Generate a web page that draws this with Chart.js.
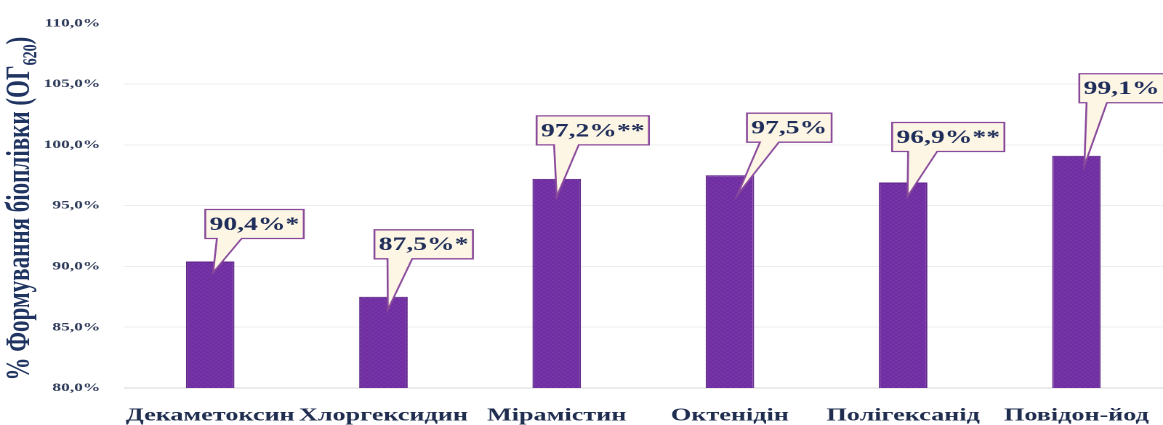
<!DOCTYPE html>
<html>
<head>
<meta charset="utf-8">
<script src="https://cdn.jsdelivr.net/npm/chart.js@4/dist/chart.umd.min.js"></script>
<style>
    html, body { margin: 0; padding: 0; background: #ffffff; }
    #chart { display: block; }
</style>
</head>
<body>
<!-- the original chart is stretched sideways, so the canvas is drawn narrower and scaled by CSS -->
<canvas id="chart" width="800" height="425" style="width:1163px;height:425px"></canvas>
<script>
// Data
const categories = ["Декаметоксин", "Хлоргексидин", "Мірамістин", "Октенідін", "Полігексанід", "Повідон-йод"];
const biofilmValues = [90.4, 87.5, 97.2, 97.5, 96.9, 99.1];
const significance = ["*", "*", "**", "", "**", ""];
const yTicks = [80, 85, 90, 95, 100, 105, 110];

const serif = '"Liberation Serif", "Times New Roman", serif';

// where each callout box sits relative to its bar (box left/bottom, tip, wedge base)
const calloutOffsets = [
    { dx: -3.4, dy: -23, tx: 2, ty: 11, wa: 8, wb: 25 },
    { dx: -6.2, dy: -38, tx: 3, ty: 13, wa: 9, wb: 26 },
    { dx: -13.8, dy: -34, tx: 0, ty: 18, wa: 12, wb: 29 },
    { dx: 11.7, dy: -33, tx: 5, ty: 20, wa: 9, wb: 22 },
    { dx: -7.6, dy: -31, tx: 3, ty: 14, wa: 11, wb: 31 },
    { dx: 2, dy: -53, tx: 5.5, ty: 10, wa: 5, wb: 19 }
];

function pct(v) {
    return v.toFixed(1).replace(".", ",") + "%";
}

// small dithered purple fill like the original bars
function barPattern() {
    const c = document.createElement("canvas");
    c.width = 4;
    c.height = 4;
    const p = c.getContext("2d");
    p.fillStyle = "#7231a3";
    p.fillRect(0, 0, 4, 4);
    p.fillStyle = "#8040b4";
    p.fillRect(0, 0, 1, 1);
    p.fillRect(2, 2, 1, 1);
    p.fillStyle = "#6c2c9c";
    p.fillRect(2, 0, 1, 1);
    p.fillRect(0, 2, 1, 1);
    return p.createPattern(c, "repeat");
}

// rotated y title with subscript 620
const yTitlePlugin = {
    id: "yTitle",
    afterDraw(chart) {
        const ctx = chart.ctx;
        const main = "% Формування біоплівки (ОГ";
        const sub = "620";
        const end = ")";
        ctx.save();
        ctx.fillStyle = "#1f3461";
        ctx.textBaseline = "alphabetic";
        ctx.textAlign = "left";
        const mainFont = "bold 23px " + serif;
        const subFont = "bold 14px " + serif;
        ctx.font = mainFont;
        const wMain = ctx.measureText(main).width;
        const wEnd = ctx.measureText(end).width;
        ctx.font = subFont;
        const wSub = ctx.measureText(sub).width;
        const total = wMain + wSub + wEnd;
        const cy = (chart.chartArea.top + chart.chartArea.bottom) / 2 + 3;
        ctx.translate(20, cy);
        ctx.rotate(-Math.PI / 2);
        let x = -total / 2;
        ctx.font = mainFont;
        ctx.fillText(main, x, 0);
        x += wMain;
        ctx.font = subFont;
        ctx.fillText(sub, x, 5);
        x += wSub;
        ctx.font = mainFont;
        ctx.fillText(end, x, 0);
        ctx.restore();
    }
};

// callout boxes with a pointer down to the bar
const calloutPlugin = {
    id: "callouts",
    afterDatasetsDraw(chart) {
        const ctx = chart.ctx;
        const meta = chart.getDatasetMeta(0);
        ctx.save();
        ctx.font = "bold 19px " + serif;
        ctx.textBaseline = "middle";
        ctx.textAlign = "center";
        meta.data.forEach((bar, i) => {
            const text = pct(biofilmValues[i]) + significance[i];
            const off = calloutOffsets[i];
            const w = ctx.measureText(text).width + 6;
            const h = 29;
            const left = bar.x + off.dx;
            const bottom = bar.y + off.dy;
            const top = bottom - h;
            ctx.beginPath();
            ctx.moveTo(left, top);
            ctx.lineTo(left + w, top);
            ctx.lineTo(left + w, bottom);
            ctx.lineTo(left + off.wb, bottom);
            ctx.lineTo(bar.x + off.tx, bar.y + off.ty);
            ctx.lineTo(left + off.wa, bottom);
            ctx.lineTo(left, bottom);
            ctx.closePath();
            ctx.fillStyle = "#fdf6e4";
            ctx.fill();
            ctx.lineWidth = 1.3;
            ctx.strokeStyle = "#8a4a9c";
            ctx.stroke();
            ctx.fillStyle = "#1f2d5a";
            ctx.fillText(text, left + w / 2, top + h / 2 + 1);
        });
        ctx.restore();
    }
};

const ctx = document.querySelector("#chart").getContext("2d");

const chart = new Chart(ctx, {
    type: "bar",
    data: {
        labels: categories,
        datasets: [{
            data: biofilmValues,
            backgroundColor: barPattern(),
            borderColor: "#5e2488",
            borderWidth: 1,
            barPercentage: 0.28,
            categoryPercentage: 1
        }]
    },
    options: {
        responsive: false,
        animation: false,
        devicePixelRatio: 2,
        layout: {
            padding: { top: 16, right: 0, bottom: 0, left: 0 }
        },
        plugins: {
            legend: { display: false },
            tooltip: { enabled: false }
        },
        scales: {
            x: {
                grid: { display: false },
                border: { display: false },
                ticks: {
                    color: "#1f2d4f",
                    font: { family: serif, size: 18, weight: "bold" },
                    padding: 9,
                    maxRotation: 0,
                    autoSkip: false
                },
                afterFit(scale) {
                    scale.height = 37;
                }
            },
            y: {
                min: 80,
                max: 110,
                border: { display: false },
                grid: {
                    drawTicks: false,
                    color: c => c.tick.value === 110 ? "rgba(0,0,0,0)" : (c.tick.value === 80 ? "#d6d6d6" : "#ececec")
                },
                afterBuildTicks(scale) {
                    scale.ticks = yTicks.map(v => ({ value: v }));
                },
                ticks: {
                    color: "#2f3b5a",
                    font: { family: serif, size: 12, weight: "bold" },
                    padding: 16,
                    callback: v => pct(v)
                },
                afterFit(scale) {
                    scale.width = 85;
                }
            }
        }
    },
    plugins: [calloutPlugin, yTitlePlugin]
});
</script>
</body>
</html>
